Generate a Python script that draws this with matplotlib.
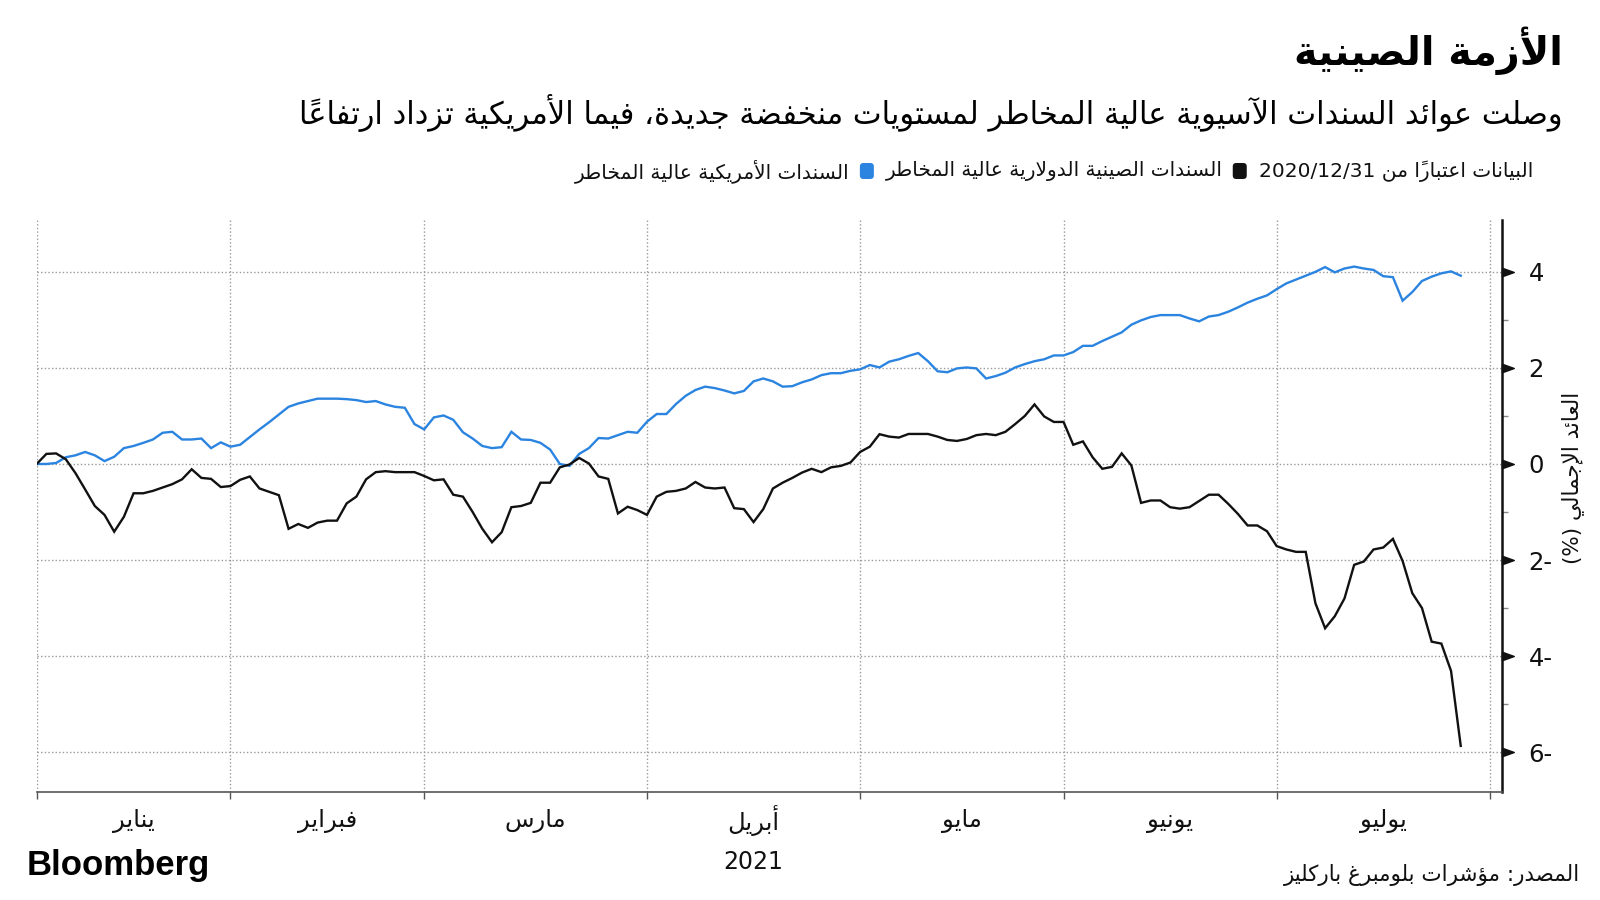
import re
import numpy as np
import matplotlib
matplotlib.use('Agg')
import matplotlib.pyplot as plt
from matplotlib.path import Path
from matplotlib.patches import FancyBboxPatch
import matplotlib.transforms as mtransforms

# ---------------- data ----------------
day_index = list(range(148))
cn_hy = [0.00, 0.21, 0.22, 0.10, -0.19, -0.53, -0.875, -1.06, -1.41, -1.10,
         -0.61, -0.61, -0.56, -0.49, -0.42, -0.32, -0.11, -0.29, -0.31, -0.48,
         -0.46, -0.33, -0.26, -0.51, -0.58, -0.65, -1.35, -1.25, -1.33, -1.22,
         -1.18, -1.18, -0.82, -0.68, -0.32, -0.17, -0.15, -0.17, -0.17, -0.17,
         -0.25, -0.34, -0.32, -0.64, -0.68, -1.00, -1.35, -1.63, -1.42, -0.90,
         -0.875, -0.81, -0.39, -0.39, -0.07, -0.01, 0.125, 0.01, -0.26, -0.31,
         -1.03, -0.89, -0.96, -1.06, -0.68, -0.58, -0.56, -0.51, -0.375, -0.49,
         -0.51, -0.49, -0.92, -0.94, -1.21, -0.94, -0.51, -0.39, -0.29, -0.18,
         -0.10, -0.17, -0.07, -0.04, 0.03, 0.25, 0.36, 0.62, 0.57, 0.55,
         0.625, 0.625, 0.625, 0.57, 0.50, 0.48, 0.52, 0.60, 0.625, 0.60,
         0.67, 0.83, 1.00, 1.24, 0.99, 0.875, 0.875, 0.40, 0.47, 0.14,
         -0.10, -0.06, 0.22, -0.03, -0.81, -0.76, -0.76, -0.90, -0.93, -0.90,
         -0.77, -0.64, -0.64, -0.83, -1.04, -1.28, -1.28, -1.40, -1.71, -1.78,
         -1.83, -1.83, -2.90, -3.42, -3.17, -2.80, -2.10, -2.03, -1.78, -1.74,
         -1.56, -2.02, -2.69, -3.00, -3.70, -3.74, -4.31, -5.87]
us_hy = [0.00, 0.00, 0.02, 0.14, 0.18, 0.25, 0.18, 0.06, 0.15, 0.33,
         0.375, 0.44, 0.51, 0.65, 0.67, 0.51, 0.51, 0.53, 0.33, 0.45,
         0.36, 0.40, 0.56, 0.72, 0.87, 1.03, 1.19, 1.26, 1.31, 1.36,
         1.36, 1.36, 1.35, 1.33, 1.29, 1.31, 1.24, 1.19, 1.17, 0.83,
         0.72, 0.97, 1.01, 0.92, 0.66, 0.53, 0.375, 0.33, 0.35, 0.67,
         0.51, 0.50, 0.44, 0.30, 0.00, -0.04, 0.21, 0.33, 0.54, 0.53,
         0.60, 0.67, 0.65, 0.88, 1.04, 1.04, 1.25, 1.42, 1.54, 1.61,
         1.58, 1.53, 1.47, 1.52, 1.72, 1.78, 1.72, 1.61, 1.62, 1.70,
         1.76, 1.85, 1.89, 1.89, 1.94, 1.97, 2.06, 2.01, 2.13, 2.18,
         2.25, 2.31, 2.14, 1.93, 1.91, 1.99, 2.01, 1.99, 1.78, 1.83,
         1.90, 2.01, 2.08, 2.14, 2.18, 2.26, 2.26, 2.33, 2.46, 2.46,
         2.56, 2.65, 2.74, 2.90, 2.99, 3.06, 3.10, 3.10, 3.10, 3.03,
         2.97, 3.07, 3.10, 3.17, 3.26, 3.36, 3.44, 3.51, 3.64, 3.76,
         3.84, 3.92, 4.00, 4.10, 3.99, 4.07, 4.11, 4.07, 4.04, 3.91,
         3.89, 3.40, 3.58, 3.81, 3.90, 3.97, 4.01, 3.92]
month_edges = [0, 20, 40, 63, 85, 106, 128, 150]
month_names = ['يناير', 'فبراير', 'مارس', 'أبريل', 'مايو', 'يونيو', 'يوليو']
y_ticks = [-6, -4, -2, 0, 2, 4]
y_tick_labels = ['6-', '4-', '2-', '0', '2', '4']
y_minor = [-5, -3, -1, 1, 3]

title = 'الأزمة الصينية'
subtitle = 'وصلت عوائد السندات الآسيوية عالية المخاطر لمستويات منخفضة جديدة، فيما الأمريكية تزداد ارتفاعاً'
legend_note = 'البيانات اعتباراً من 2020/12/31'
series_names = ['السندات الصينية الدولارية عالية المخاطر', 'السندات الأمريكية عالية المخاطر']
y_label = 'العائد الإجمالي (%)'
year_label = '2021'
source = 'المصدر: مؤشرات بلومبرغ باركليز'

BLUE = '#2b84e0'
BLACK = '#111111'

# ---------------- Arabic shaping (presentation forms) + simple bidi ----------------
_DUAL = {0x0626: 0xFE89, 0x0628: 0xFE8F, 0x062A: 0xFE95, 0x062B: 0xFE99, 0x062C: 0xFE9D,
         0x062D: 0xFEA1, 0x062E: 0xFEA5, 0x0633: 0xFEB1, 0x0634: 0xFEB5, 0x0635: 0xFEB9,
         0x0636: 0xFEBD, 0x0637: 0xFEC1, 0x0638: 0xFEC5, 0x0639: 0xFEC9, 0x063A: 0xFECD,
         0x0641: 0xFED1, 0x0642: 0xFED5, 0x0643: 0xFED9, 0x0644: 0xFEDD, 0x0645: 0xFEE1,
         0x0646: 0xFEE5, 0x0647: 0xFEE9, 0x064A: 0xFEF1}
_RIGHT = {0x0622: 0xFE81, 0x0623: 0xFE83, 0x0624: 0xFE85, 0x0625: 0xFE87, 0x0627: 0xFE8D,
          0x0629: 0xFE93, 0x062F: 0xFEA9, 0x0630: 0xFEAB, 0x0631: 0xFEAD, 0x0632: 0xFEAF,
          0x0648: 0xFEED, 0x0649: 0xFEEF}
_NONE = {0x0621: 0xFE80}
_LAMALEF = {0x0622: 0xFEF5, 0x0623: 0xFEF7, 0x0625: 0xFEF9, 0x0627: 0xFEFB}
_MIRROR = {'(': ')', ')': '(', '[': ']', ']': '['}


def _is_mark(c):
    o = ord(c)
    return 0x064B <= o <= 0x065F or o == 0x0670


def _shape(text):
    cl = []
    i, n = 0, len(text)
    while i < n:
        c = text[i]
        o = ord(c)
        if _is_mark(c) and cl:
            cl[-1][1] += c
            i += 1
            continue
        if o == 0x0644:
            j = i + 1
            marks = ''
            while j < n and _is_mark(text[j]):
                marks += text[j]
                j += 1
            if j < n and ord(text[j]) in _LAMALEF:
                b = _LAMALEF[ord(text[j])]
                cl.append([None, marks, 'R', (b, b + 1)])
                i = j + 1
                continue
        if o in _DUAL:
            b = _DUAL[o]
            cl.append([c, '', 'D', (b, b + 1, b + 2, b + 3)])
        elif o in _RIGHT:
            b = _RIGHT[o]
            cl.append([c, '', 'R', (b, b + 1)])
        elif o in _NONE:
            cl.append([c, '', 'U', (_NONE[o],)])
        else:
            cl.append([c, '', 'X', None])
        i += 1
    out = []
    for k, (c, marks, t, forms) in enumerate(cl):
        if forms is None:
            out.append(c + marks)
            continue
        prev = cl[k - 1][2] if k > 0 else 'X'
        nxt = cl[k + 1][2] if k + 1 < len(cl) else 'X'
        jp = prev == 'D' and t in ('D', 'R')
        jn = t == 'D' and nxt in ('D', 'R')
        if t == 'D':
            idx = 3 if (jp and jn) else (1 if jp else (2 if jn else 0))
        elif t == 'R':
            idx = 1 if jp else 0
        else:
            idx = 0
        out.append(chr(forms[idx]) + marks)
    return out


def ar(text):
    parts = re.split(r'([A-Za-z0-9]+(?:[/.:,][A-Za-z0-9]+)*)', text)
    vis = []
    for k, p in enumerate(parts):
        if not p:
            continue
        if k % 2 == 1:
            vis.append(p)
        else:
            cl = _shape(p)
            vis.append(''.join(_MIRROR.get(c, c) for c in reversed(cl)))
    return ''.join(reversed(vis))


AR_FONT = ['DejaVu Sans']
plt.rcParams['font.family'] = ['DejaVu Sans']

# ---------------- figure ----------------
W, H = 1600, 900
fig = plt.figure(figsize=(16, 9), dpi=100)
fig.patch.set_facecolor('white')

ax_left, ax_right, ax_top, ax_bottom = 36.7, 1502, 220, 792
ax = fig.add_axes([ax_left / W, 1 - ax_bottom / H, (ax_right - ax_left) / W, (ax_bottom - ax_top) / H])

ax.plot(day_index, us_hy, color=BLUE, lw=1.7, zorder=3, solid_joinstyle='miter')
ax.plot(day_index, cn_hy, color=BLACK, lw=1.7, zorder=3, solid_joinstyle='miter')

ax.set_xlim(0, 151.26)
ax.set_ylim(-6.83, 5.08)

for s in ['top', 'left']:
    ax.spines[s].set_visible(False)
ax.spines['right'].set_color('#111111')
ax.spines['right'].set_linewidth(1.8)
ax.spines['bottom'].set_color('#555555')
ax.spines['bottom'].set_linewidth(1.2)

ax.set_xticks(month_edges)
ax.set_xticklabels([])
ax.tick_params(axis='x', which='major', direction='out', length=5, width=1, color='#555555')

ax.yaxis.tick_right()
ax.set_yticks(y_ticks)
ax.set_yticklabels(y_tick_labels)
ax.set_yticks(y_minor, minor=True)
ax.tick_params(axis='y', which='major', length=0, pad=19, labelsize=17.5, labelcolor='#111111')
ax.tick_params(axis='y', which='minor', length=4, width=1, color='#888888', direction='out')
ax.tick_params(axis='x', which='minor', length=0)

ax.grid(axis='both', which='major', linestyle=(0, (1, 1.6)), color='#9a9a9a', linewidth=1.0, zorder=1)
ax.set_axisbelow(True)

# triangular major tick markers on the right axis
tri = Path([(0, -0.36), (1, 0), (0, 0.36), (0, -0.36)],
           [Path.MOVETO, Path.LINETO, Path.LINETO, Path.CLOSEPOLY])
blend_y = mtransforms.blended_transform_factory(ax.transAxes, ax.transData)
ax.plot([1.0] * len(y_ticks), y_ticks, linestyle='none', marker=tri, markersize=17,
        color='#111111', transform=blend_y, clip_on=False, zorder=5)

# month labels
blend_x = mtransforms.blended_transform_factory(ax.transData, ax.transAxes)
for a, b, name in zip(month_edges[:-1], month_edges[1:], month_names):
    ax.text((a + b) / 2, -(821 - ax_bottom) / (ax_bottom - ax_top), ar(name), transform=blend_x,
            ha='center', va='center', fontsize=17.5, family=AR_FONT, color='#111111')

# year
fig.text(753 / W, 1 - 862 / H, year_label, ha='center', va='center', fontsize=17, color='#111111')

# y label
fig.text(1573 / W, 1 - 478 / H, ar(y_label), rotation=90, ha='center', va='center',
         fontsize=15.5, family=AR_FONT, color='#111111')

# title & subtitle
fig.text(1563 / W, 1 - 51 / H, ar(title), ha='right', va='center', fontsize=28.5,
         fontweight='bold', family=AR_FONT, color='#000000')
fig.text(1563 / W, 1 - 113 / H, ar(subtitle), ha='right', va='center', fontsize=22,
         family=AR_FONT, color='#000000')

# legend (laid out right to left)
renderer = fig.canvas.get_renderer()
leg_y = 1 - 171 / H
x_cursor = 1533
t = fig.text(x_cursor / W, leg_y, ar(legend_note), ha='right', va='center', fontsize=14.5,
             family=AR_FONT, color='#111111')
bb = t.get_window_extent(renderer)
x_cursor = bb.x0
for name, col in zip(series_names, [BLACK, BLUE]):
    x_cursor -= 12
    mw, mh = 14, 16
    yc = H - 171
    patch = FancyBboxPatch((x_cursor - mw, yc - mh / 2), mw, mh,
                           boxstyle='round,pad=0,rounding_size=3.5',
                           transform=mtransforms.IdentityTransform(),
                           facecolor=col, edgecolor='none')
    fig.add_artist(patch)
    x_cursor -= mw + 10
    t = fig.text(x_cursor / W, leg_y, ar(name), ha='right', va='center', fontsize=14.5,
                 family=AR_FONT, color='#111111')
    bb = t.get_window_extent(renderer)
    x_cursor = bb.x0

# footer
fig.text(27 / W, 1 - 866 / H, 'Bloomberg', ha='left', va='center', fontsize=25,
         fontweight='bold', family=['Liberation Sans'], color='#000000')
fig.text(1580 / W, 1 - 875 / H, ar(source), ha='right', va='center', fontsize=15.5,
         family=AR_FONT, color='#111111')

fig.savefig('out.png', dpi=100, facecolor='white')
